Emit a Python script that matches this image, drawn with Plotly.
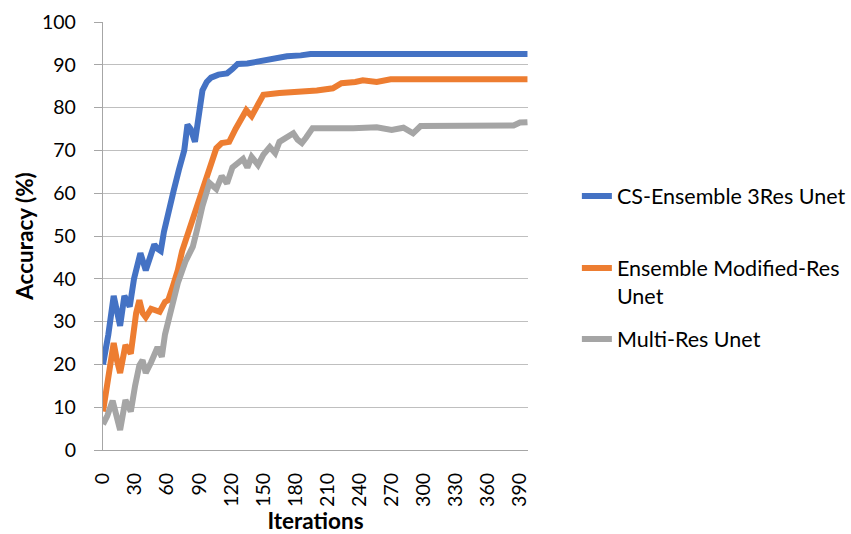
import plotly.graph_objects as go

# ---- data ----
cs_x = [0, 5, 10, 13, 16, 20, 25, 29, 35, 40, 43, 48, 51, 54, 57, 60, 66, 71, 76, 79,
        82, 86, 90, 93, 97, 101, 108, 116, 121, 126, 135, 144, 152, 160, 172, 185, 194, 397]
cs_y = [20, 27, 36, 32, 29, 36, 33.5, 40, 46, 42, 44, 48, 47, 46.5, 51, 54.5, 60.5, 65.5, 70, 76,
        75, 72, 79, 84, 86, 87, 87.7, 88, 89, 90.2, 90.3, 90.7, 91, 91.4, 92, 92.2, 92.5, 92.5]

ens_x = [0, 5, 10, 13, 16, 21, 26, 31, 34, 37, 40, 45, 48, 53, 58, 61, 65, 70, 74, 81,
         87, 90, 96, 102, 106, 111, 118, 124, 130, 134, 139, 145, 150, 165, 184, 200, 215, 223,
         236, 243, 256, 269, 397]
ens_y = [9, 17, 25, 21, 18, 24.5, 22.5, 32, 35, 32, 31, 33, 32.7, 32.3, 34.6, 35, 38, 42, 46.5, 52,
         56, 58.4, 63, 67.8, 70.5, 71.7, 72, 75, 77.8, 79.4, 78, 81, 83, 83.4, 83.6, 84, 84.5, 85.7,
         86, 86.4, 86, 86.6, 86.6]

mr_x = [0, 4, 9, 13, 16, 21, 26, 30, 34, 37, 40, 45, 51, 55, 58, 62, 70, 77, 84, 88,
        93, 99.6, 106, 111, 116, 121, 131, 135, 139, 145, 150, 156, 161, 165, 171, 178, 182, 186,
        190, 196, 234, 256, 270, 281, 290, 297, 384, 390, 397]
mr_y = [6, 8, 11.5, 8, 4.7, 11.7, 9, 15, 19.8, 21, 18, 20.5, 24, 21.8, 27, 31, 39, 44, 47.5, 51.5,
        57, 62.4, 61, 64, 62.3, 66, 68, 66, 68.5, 66.6, 69, 70.8, 69.4, 72, 73, 74, 72.5, 71.7,
        73, 75.2, 75.2, 75.4, 74.8, 75.3, 74, 75.7, 75.8, 76.5, 76.6]

series_names = ["CS-Ensemble 3Res Unet", "Ensemble Modified-Res<br>Unet", "Multi-Res Unet"]
series_colors = ["#4472C4", "#ED7D31", "#A5A5A5"]

x_ticks = list(range(0, 391, 30))
y_ticks = list(range(0, 101, 10))

FONT = "Lato"
LEG_FONT = 21.5

fig = go.Figure()
legend_keys = ["legend", "legend2", "legend3"]
for i, (xs, ys) in enumerate([(cs_x, cs_y), (ens_x, ens_y), (mr_x, mr_y)]):
    fig.add_trace(go.Scatter(
        x=xs, y=ys, mode="lines", name=series_names[i],
        line=dict(color=series_colors[i], width=6),
        legend=legend_keys[i],
    ))

leg_common = dict(
    x=1.115, xanchor="left", yanchor="middle", valign="top",
    font=dict(family=FONT, size=LEG_FONT, color="#000000"),
    bgcolor="rgba(0,0,0,0)", borderwidth=0,
)

fig.update_layout(
    width=851, height=534,
    margin=dict(l=103, r=323, t=22, b=84, autoexpand=False),
    paper_bgcolor="white", plot_bgcolor="white",
    font=dict(family=FONT, size=19, color="#000000"),
    showlegend=True,
    legend=dict(y=0.5935, **leg_common),
    legend2=dict(y=0.3925, **leg_common),
    legend3=dict(y=0.2593, **leg_common),
)

fig.update_xaxes(
    range=[0, 397.5], tickmode="array", tickvals=x_ticks,
    ticktext=[str(v) for v in x_ticks], tickangle=-90,
    showgrid=False, zeroline=False, automargin=False,
    showline=True, linecolor="#A6A6A6", linewidth=1.3,
    ticks="outside", ticklen=14, tickcolor="rgba(0,0,0,0)",
    tickfont=dict(family=FONT, size=19.5),
    title=dict(text="<b>Iterations</b>", font=dict(family=FONT, size=22.5), standoff=8),
)
fig.update_yaxes(
    range=[0, 100], tickmode="array", tickvals=y_ticks,
    showgrid=True, gridcolor="#BFBFBF", gridwidth=1.3, zeroline=False, automargin=False,
    showline=True, linecolor="#A6A6A6", linewidth=1.3,
    ticks="outside", ticklen=8, tickcolor="#A6A6A6", tickwidth=1.3,
    ticklabelstandoff=14,
    tickfont=dict(family=FONT, size=19.5),
    title=dict(text="<b>Accuracy (%)</b>", font=dict(family=FONT, size=22.5), standoff=2),
)

fig.write_html("out.html")
